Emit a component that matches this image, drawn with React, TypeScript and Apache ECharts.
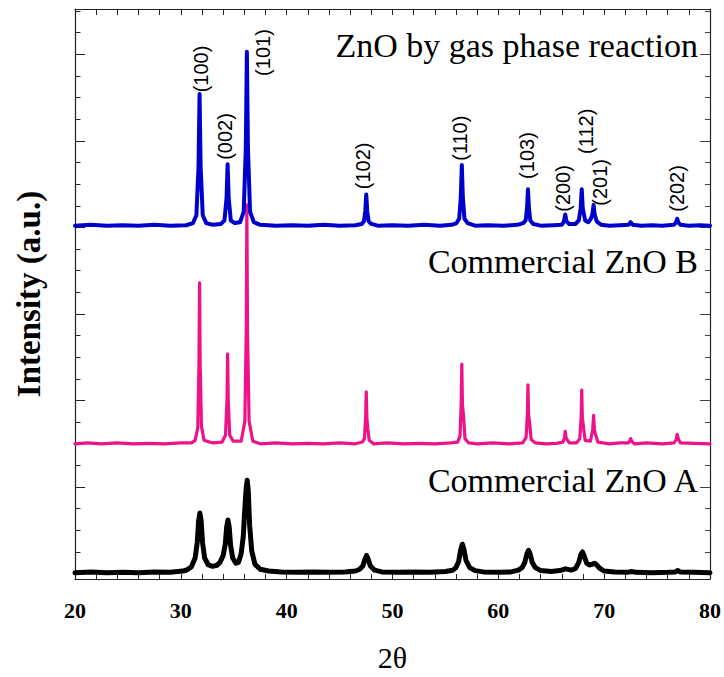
import React, { useEffect, useRef } from "react";
import * as echarts from "echarts";

// ---- axis ranges / ticks ----
const X_MIN = 20;
const X_MAX = 80;
const X_TICK_STEP = 2;
const Y_MIN = -0.062;
const Y_MAX = 6.523;
const Y_MAJOR_TICKS = [0, 1, 2, 3, 4, 5, 6];
const Y_MINOR_TICKS = [
  0.25, 0.5, 0.75, 1.25, 1.5, 1.75, 2.25, 2.5, 2.75, 3.25, 3.5, 3.75,
  4.25, 4.5, 4.75, 5.25, 5.5, 5.75, 6.25, 6.5,
];

// ---- vertical offsets of the stacked patterns ----
const GAS_OFFSET = 4.02;
const B_OFFSET = 1.5;
const A_OFFSET = 0.01;

// ---- series names ----
const SERIES_NAMES = ["ZnO by gas phase reaction", "Commercial ZnO B", "Commercial ZnO A"];

// ---- XRD pattern: ZnO by gas phase reaction (2θ, relative intensity) ----
const gasPhase: [number, number][] = [
  [20.0, 0.0], [21.5, 0.01], [23.0, 0.0], [24.5, 0.005], [26.0, 0.0], [27.5, 0.01], [29.0, 0.0], [30.5, 0.005],
  [31.15, 0.03], [31.47, 0.12], [31.67, 0.68], [31.77, 1.52], [31.87, 0.68], [32.07, 0.12], [32.4, 0.03],
  [33.0, 0.01], [33.8, 0.02], [34.12, 0.06], [34.32, 0.32], [34.42, 0.71], [34.52, 0.32], [34.72, 0.06], [35.1, 0.03],
  [35.6, 0.04], [35.94, 0.16], [36.14, 0.9], [36.24, 2.01], [36.34, 0.9], [36.54, 0.16], [36.9, 0.04],
  [37.5, 0.01], [39.0, 0.0], [40.5, 0.005], [42.0, 0.0], [43.5, 0.01], [45.0, 0.0], [46.5, 0.005],
  [47.1, 0.02], [47.3, 0.05], [47.43, 0.17], [47.52, 0.36], [47.61, 0.17], [47.74, 0.05], [48.0, 0.02],
  [48.6, 0.0], [50.0, 0.005], [51.5, 0.0], [53.0, 0.01], [54.5, 0.0], [55.6, 0.01],
  [56.05, 0.03], [56.3, 0.08], [56.45, 0.32], [56.55, 0.7], [56.65, 0.32], [56.8, 0.08], [57.1, 0.03],
  [57.8, 0.0], [59.0, 0.005], [60.5, 0.0], [61.8, 0.01],
  [62.35, 0.03], [62.58, 0.06], [62.71, 0.2], [62.8, 0.42], [62.89, 0.2], [63.02, 0.06], [63.3, 0.02],
  [64.0, 0.0], [65.2, 0.005], [66.0, 0.01], [66.2, 0.05], [66.32, 0.13], [66.44, 0.05], [66.7, 0.02],
  [67.3, 0.02], [67.6, 0.06], [67.78, 0.2], [67.88, 0.42], [67.98, 0.2], [68.2, 0.06], [68.5, 0.04],
  [68.75, 0.08], [68.9, 0.14], [69.0, 0.24], [69.1, 0.13], [69.3, 0.05], [69.7, 0.01],
  [70.5, 0.0], [71.5, 0.005], [72.3, 0.01], [72.5, 0.04], [72.7, 0.01], [73.5, 0.0], [74.5, 0.005], [75.5, 0.0],
  [76.6, 0.01], [76.8, 0.04], [76.9, 0.08], [77.0, 0.04], [77.2, 0.01], [78.0, 0.0], [79.0, 0.005], [80.0, 0.0],
];

// ---- XRD pattern: Commercial ZnO B ----
const commercialB: [number, number][] = [
  [20.0, 0.0], [21.2, 0.01], [22.5, 0.0], [24.0, 0.01], [25.5, 0.0], [27.0, 0.005], [28.5, 0.0], [30.0, 0.01], [31.0, 0.01],
  [31.35, 0.04], [31.6, 0.18], [31.71, 0.9], [31.77, 1.86], [31.83, 0.9], [31.95, 0.2], [32.2, 0.04],
  [33.0, 0.01], [33.9, 0.02], [34.22, 0.1], [34.36, 0.5], [34.42, 1.04], [34.48, 0.5], [34.62, 0.1], [34.95, 0.03],
  [35.7, 0.03], [36.05, 0.26], [36.18, 1.3], [36.24, 2.76], [36.3, 1.3], [36.45, 0.26], [36.8, 0.03],
  [37.5, 0.0], [39.0, 0.01], [40.5, 0.0], [42.0, 0.005], [43.5, 0.0], [45.0, 0.01], [46.5, 0.0], [47.15, 0.02],
  [47.35, 0.06], [47.46, 0.3], [47.52, 0.6], [47.58, 0.3], [47.66, 0.18], [47.8, 0.04], [48.2, 0.0],
  [49.5, 0.01], [51.0, 0.0], [52.5, 0.005], [54.0, 0.0], [55.5, 0.01], [56.15, 0.02],
  [56.38, 0.09], [56.49, 0.45], [56.55, 0.92], [56.61, 0.45], [56.69, 0.35], [56.85, 0.06], [57.2, 0.01],
  [58.0, 0.0], [59.5, 0.01], [61.0, 0.0], [62.3, 0.01],
  [62.62, 0.07], [62.74, 0.33], [62.8, 0.68], [62.86, 0.33], [62.94, 0.26], [63.1, 0.05], [63.5, 0.01],
  [64.5, 0.0], [65.5, 0.005], [66.1, 0.02], [66.26, 0.07], [66.32, 0.145], [66.4, 0.07], [66.5, 0.05], [66.7, 0.01],
  [67.4, 0.01], [67.7, 0.06], [67.82, 0.3], [67.88, 0.62], [67.94, 0.3], [68.02, 0.22], [68.2, 0.04],
  [68.7, 0.03], [68.92, 0.16], [69.0, 0.33], [69.08, 0.16], [69.16, 0.12], [69.4, 0.02],
  [70.5, 0.0], [71.5, 0.01], [72.3, 0.01], [72.45, 0.04], [72.5, 0.06], [72.6, 0.03], [72.85, 0.0],
  [74.0, 0.01], [75.5, 0.0], [76.6, 0.01], [76.82, 0.05], [76.9, 0.11], [77.0, 0.06], [77.2, 0.01], [78.5, 0.005], [80.0, 0.0],
];

// ---- XRD pattern: Commercial ZnO A (broad peaks) ----
const commercialA: [number, number][] = [
  [20.0, 0.0], [21.5, 0.01], [23.0, 0.0], [24.5, 0.005], [26.0, 0.0], [27.5, 0.01], [29.0, 0.005], [30.2, 0.02],
  [30.6, 0.035], [31.0, 0.07], [31.35, 0.17], [31.55, 0.35], [31.68, 0.6], [31.8, 0.69], [31.92, 0.6], [32.05, 0.35],
  [32.25, 0.17], [32.6, 0.09], [33.0, 0.075], [33.4, 0.085],
  [33.7, 0.12], [34.0, 0.2], [34.2, 0.33], [34.33, 0.53], [34.45, 0.61], [34.57, 0.53], [34.7, 0.32], [34.9, 0.17],
  [35.2, 0.11], [35.45, 0.12],
  [35.7, 0.22], [35.9, 0.42], [36.05, 0.75], [36.17, 0.97], [36.27, 1.07], [36.37, 0.95], [36.5, 0.55], [36.7, 0.25],
  [37.0, 0.1], [37.5, 0.04], [38.3, 0.02],
  [39.5, 0.01], [41.0, 0.005], [42.5, 0.01], [44.0, 0.005], [45.5, 0.01], [46.5, 0.02],
  [46.9, 0.04], [47.2, 0.08], [47.38, 0.15], [47.55, 0.2], [47.72, 0.15], [47.9, 0.08], [48.3, 0.03], [49.0, 0.01],
  [50.5, 0.005], [52.0, 0.01], [53.5, 0.005], [55.0, 0.015], [55.7, 0.03],
  [56.0, 0.06], [56.25, 0.13], [56.45, 0.27], [56.6, 0.33], [56.75, 0.27], [56.95, 0.14], [57.3, 0.06], [57.8, 0.025], [58.6, 0.01],
  [60.0, 0.005], [61.2, 0.01], [61.9, 0.03],
  [62.25, 0.06], [62.5, 0.12], [62.7, 0.22], [62.85, 0.26], [63.0, 0.22], [63.2, 0.12], [63.5, 0.06], [64.0, 0.025], [65.0, 0.015],
  [65.8, 0.025], [66.35, 0.045], [66.9, 0.03], [67.3, 0.05], [67.6, 0.12], [67.8, 0.21], [67.95, 0.24], [68.1, 0.2],
  [68.35, 0.11], [68.6, 0.09], [68.9, 0.1], [69.1, 0.11], [69.3, 0.09], [69.6, 0.05], [70.0, 0.02], [71.0, 0.01],
  [72.2, 0.005], [72.6, 0.015], [73.0, 0.005], [74.5, 0.0], [76.0, 0.005], [76.7, 0.01], [76.95, 0.025], [77.2, 0.01],
  [78.5, 0.005], [80.0, 0.0],
];

// ---- Miller index annotations (label text, 2θ, intensity where label is centred) ----
const hklLabels = ["(100)", "(002)", "(101)", "(102)", "(110)", "(103)", "(200)", "(112)", "(201)", "(202)"];
const hklX = [31.91, 34.13, 37.8, 47.22, 56.36, 62.67, 66.15, 68.32, 69.64, 76.9];
const hklY = [5.83, 5.05, 6.02, 4.71, 5.03, 4.83, 4.45, 5.11, 4.52, 4.45];

const COLORS = { gas: "#0000CC", b: "#EE1289", a: "#000000" };

const shift = (arr: [number, number][], off: number) =>
  arr.map(([x, y]) => [x, Math.round((y + off) * 1000) / 1000]);

export default function App() {
  const ref = useRef<HTMLDivElement>(null);

  useEffect(() => {
    if (!ref.current) return;
    const chart = echarts.init(ref.current, undefined, { renderer: "svg" });

    const frame = { show: true, lineStyle: { color: "#222", width: 1.2 } };
    const yBase = {
      type: "value" as const,
      min: Y_MIN,
      max: Y_MAX,
      axisLabel: { show: false },
      splitLine: { show: false },
    };
    const titleStyle = {
      align: "right",
      verticalAlign: "middle",
      textAlign: "right",
      textVerticalAlign: "middle",
      fontFamily: "Liberation Serif",
      fontSize: 34,
      fill: "#000",
    };

    chart.setOption({
      animation: false,
      backgroundColor: "#ffffff",
      grid: { left: 75, right: 12, top: 9, bottom: 97, containLabel: false },
      xAxis: [
        {
          type: "value",
          position: "bottom",
          min: X_MIN,
          max: X_MAX,
          interval: X_TICK_STEP,
          axisLine: { ...frame, onZero: false },
          axisTick: { show: true, inside: true, length: 5, lineStyle: { color: "#222" } },
          axisLabel: {
            formatter: (v: number) => (v % 10 === 0 ? String(v) : ""),
            margin: 20,
            fontFamily: "Liberation Serif",
            fontWeight: "bold",
            fontSize: 22,
            color: "#000",
          },
          splitLine: { show: false },
          name: "2θ",
          nameLocation: "middle",
          nameGap: 63,
          nameTextStyle: { fontFamily: "Liberation Serif", fontSize: 30, color: "#000" },
        },
        {
          type: "value",
          position: "top",
          min: X_MIN,
          max: X_MAX,
          interval: X_TICK_STEP,
          axisLine: { ...frame, onZero: false },
          axisTick: { show: true, inside: true, length: 6, lineStyle: { color: "#222" } },
          axisLabel: { show: false },
          splitLine: { show: false },
        },
      ],
      yAxis: [
        {
          ...yBase,
          position: "left",
          axisLine: { ...frame, onZero: false },
          axisTick: { show: true, inside: true, length: 10, customValues: Y_MAJOR_TICKS, lineStyle: { color: "#222" } },
          name: "Intensity (a.u.)",
          nameLocation: "middle",
          nameRotate: 90,
          nameGap: 30,
          nameTextStyle: { fontFamily: "Liberation Serif", fontWeight: "bold", fontSize: 33, color: "#000" },
        },
        {
          ...yBase,
          position: "left",
          axisLine: { show: false },
          axisTick: { show: true, inside: true, length: 5.5, customValues: Y_MINOR_TICKS, lineStyle: { color: "#222" } },
        },
        {
          ...yBase,
          position: "right",
          axisLine: { ...frame, onZero: false },
          axisTick: { show: true, inside: true, length: 10, customValues: Y_MAJOR_TICKS, lineStyle: { color: "#444" } },
        },
        {
          ...yBase,
          position: "right",
          axisLine: { show: false },
          axisTick: { show: true, inside: true, length: 5, customValues: Y_MINOR_TICKS, lineStyle: { color: "#444" } },
        },
      ],
      graphic: [
        { type: "text", silent: true, style: { ...titleStyle, text: SERIES_NAMES[0], x: 698, y: 45.5 } },
        { type: "text", silent: true, style: { ...titleStyle, text: SERIES_NAMES[1], x: 698, y: 261.5 } },
        { type: "text", silent: true, style: { ...titleStyle, text: SERIES_NAMES[2], x: 698, y: 480.5 } },
      ],
      series: [
        {
          name: SERIES_NAMES[2],
          type: "line",
          xAxisIndex: 0,
          yAxisIndex: 0,
          showSymbol: false,
          symbol: "none",
          lineStyle: { color: COLORS.a, width: 5, join: "round", cap: "round" },
          data: shift(commercialA, A_OFFSET),
        },
        {
          name: SERIES_NAMES[1],
          type: "line",
          xAxisIndex: 0,
          yAxisIndex: 0,
          showSymbol: false,
          symbol: "none",
          lineStyle: { color: COLORS.b, width: 3.2, join: "round", cap: "round" },
          data: shift(commercialB, B_OFFSET),
        },
        {
          name: SERIES_NAMES[0],
          type: "line",
          xAxisIndex: 0,
          yAxisIndex: 0,
          showSymbol: false,
          symbol: "none",
          lineStyle: { color: COLORS.gas, width: 4, join: "round", cap: "round" },
          data: shift(gasPhase, GAS_OFFSET),
        },
        {
          name: "hkl",
          type: "scatter",
          xAxisIndex: 0,
          yAxisIndex: 0,
          symbolSize: 1,
          itemStyle: { color: "rgba(255,255,255,0)" },
          silent: true,
          z: 5,
          label: {
            show: true,
            position: "inside",
            rotate: 90,
            formatter: (p: any) => p.name,
            fontFamily: "Liberation Sans",
            fontSize: 20,
            color: "#000000",
            opacity: 1,
            textBorderWidth: 0,
            textBorderColor: "transparent",
          },
          data: hklLabels.map((t, i) => ({ name: t, value: [hklX[i], hklY[i]] })),
        },
      ],
    });

    return () => chart.dispose();
  }, []);

  return (
    <div
      ref={ref}
      style={{ position: "absolute", left: 0, top: 0, width: 724, height: 677 }}
    />
  );
}
